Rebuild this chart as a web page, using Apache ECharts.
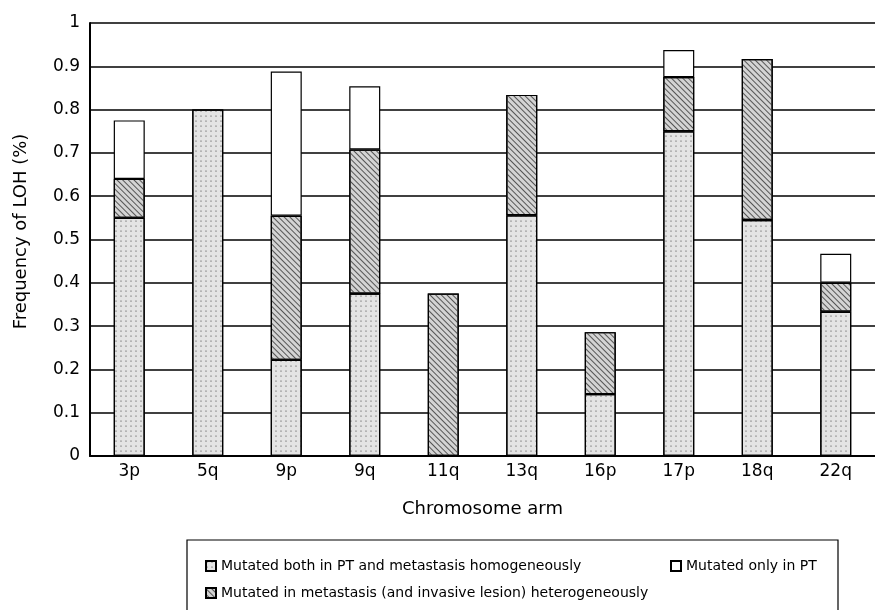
<!DOCTYPE html>
<html><head><meta charset="utf-8">
<script src="https://cdn.jsdelivr.net/npm/echarts@6/dist/echarts.min.js"></script>
<style>html,body{margin:0;padding:0;background:#fff}#c{width:875px;height:610px}</style>
</head><body><div id="c"></div>
<script>
var categories = ['3p','5q','9p','9q','11q','13q','16p','17p','18q','22q'];
var homogeneous = [0.55, 0.80, 0.222, 0.375, 0, 0.556, 0.143, 0.75, 0.545, 0.333];
var heterogeneous = [0.09, 0, 0.333, 0.333, 0.375, 0.278, 0.143, 0.125, 0.372, 0.067];
var onlyPT = [0.135, 0, 0.333, 0.146, 0, 0, 0, 0.0625, 0, 0.067];
var seriesNames = ['Mutated both in PT and metastasis homogeneously',
  'Mutated in metastasis (and invasive lesion) heterogeneously',
  'Mutated only in PT'];

function clean(a){ return a.map(function(v){ return v === 0 ? '-' : v; }); }
var FONT = '"DejaVu Sans", sans-serif';
var chart = echarts.init(document.getElementById('c'));
var border = {borderColor:'#000', borderWidth:1.2};
var legendText = {fontSize:14, color:'#000', fontFamily:FONT};
var legendBase = {icon:'rect', itemWidth:10, itemHeight:10, itemGap:5, textStyle:legendText};
chart.setOption({
  animation:false,
  backgroundColor:'#fff',
  textStyle:{fontFamily:FONT},
  grid:{left:90, top:23, height:433, width:795},
  xAxis:{type:'category', data:categories,
    name:'Chromosome arm', nameLocation:'middle', nameGap:44,
    nameTextStyle:{color:'#000', fontSize:18, fontFamily:FONT},
    axisLine:{lineStyle:{color:'#000', width:2}},
    axisTick:{inside:true, length:4, lineStyle:{color:'#000'}},
    axisLabel:{color:'#000', fontSize:17, margin:7, fontFamily:FONT}},
  yAxis:{type:'value', min:0, max:1, interval:0.1,
    name:'Frequency of LOH (%)', nameLocation:'middle', nameGap:60,
    nameTextStyle:{color:'#000', fontSize:18, fontFamily:FONT, padding:[0,0,0,16]},
    axisLine:{show:true, lineStyle:{color:'#000', width:2}},
    axisTick:{show:false},
    axisLabel:{color:'#000', fontSize:17, margin:10, fontFamily:FONT},
    splitLine:{lineStyle:{color:'#000', width:1.5}}},
  legend:[
    Object.assign({data:[seriesNames[0]], left:200, top:554}, legendBase),
    Object.assign({data:[seriesNames[2]], left:665, top:554}, legendBase),
    Object.assign({data:[seriesNames[1]], left:200, top:581}, legendBase)
  ],
  graphic:[{type:'rect', shape:{x:187, y:540, width:651, height:75},
    style:{fill:'none', stroke:'#000', lineWidth:1.2}}],
  series:[
    {name:seriesNames[0], type:'bar', stack:'a', barWidth:31, data:clean(homogeneous),
      itemStyle:Object.assign({color:'#e4e4e4', decal:{symbol:'circle', symbolSize:0.6, dashArrayX:[[2,3]], dashArrayY:[2,3], color:'#333'}}, border)},
    {name:seriesNames[1], type:'bar', stack:'a', barWidth:31, data:clean(heterogeneous),
      itemStyle:Object.assign({color:'#d4d4d4', decal:{symbol:'rect', symbolSize:1, dashArrayX:[1,0], dashArrayY:[1,3], rotation:Math.PI/4, color:'#555'}}, border)},
    {name:seriesNames[2], type:'bar', stack:'a', barWidth:31, data:clean(onlyPT),
      itemStyle:Object.assign({color:'#fff'}, border)}
  ]
});
</script></body></html>
